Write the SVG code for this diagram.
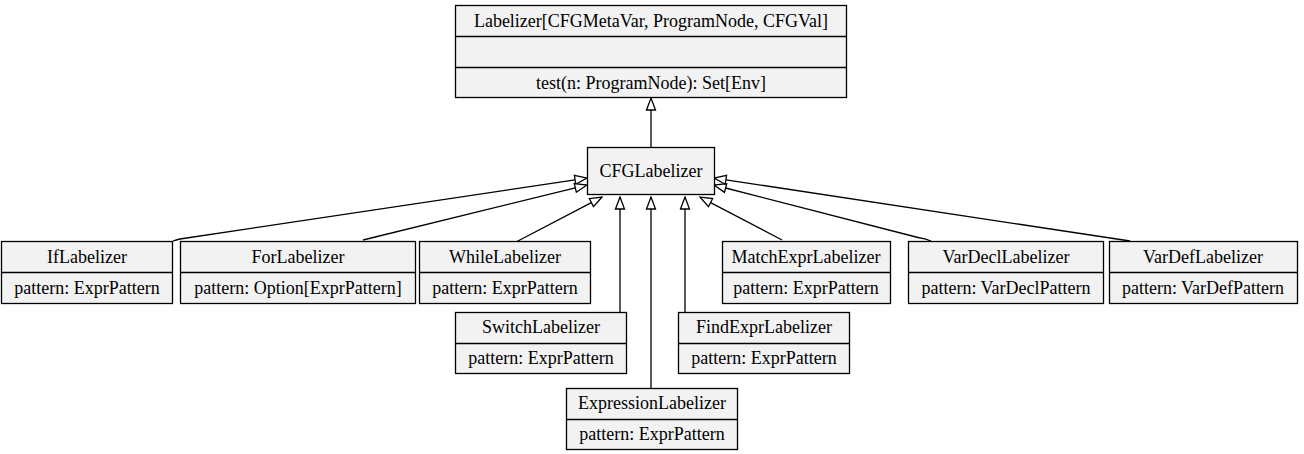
<svg xmlns="http://www.w3.org/2000/svg" width="1304" height="454" viewBox="0 0 1304 454" font-family="Liberation Serif, DejaVu Serif, serif" font-size="18">
<style>
.box{fill:#f2f2f2;stroke:#000;stroke-width:1.3}
.div{stroke:#000;stroke-width:1.3}
text{fill:#000;text-anchor:middle}
.edge{fill:none;stroke:#000;stroke-width:1.3}
</style>
<defs>
<marker id="tri" viewBox="-1 -6 14 12" refX="0" refY="0" markerWidth="14" markerHeight="12" markerUnits="userSpaceOnUse" orient="auto">
<path d="M0,-4.5 L12,0 L0,4.5 Z" fill="#fff" stroke="#000" stroke-width="1.3"/>
</marker>
</defs>
<rect width="1304" height="454" fill="#fff"/>
<g id="connectors">
<path class="edge" marker-end="url(#tri)" d="M651,147 L651,110"/>
<path class="edge" marker-end="url(#tri)" d="M173,241 Q176,240 180,239 L575.1,179.8"/>
<path class="edge" marker-end="url(#tri)" d="M363,240 L575.3,187.9"/>
<path class="edge" marker-end="url(#tri)" d="M516,242 L591.4,202.6"/>
<path class="edge" marker-end="url(#tri)" d="M620,312 L620,209"/>
<path class="edge" marker-end="url(#tri)" d="M651,388 L651,209"/>
<path class="edge" marker-end="url(#tri)" d="M685,312 L685,209"/>
<path class="edge" marker-end="url(#tri)" d="M782,240 L710.6,202.6"/>
<path class="edge" marker-end="url(#tri)" d="M931,241 Q925,238.5 918,237.5 L725.6,188"/>
<path class="edge" marker-end="url(#tri)" d="M1130,241 L725.9,179.8"/>
</g>
<g id="Labelizer">
<rect class="box" x="455.5" y="5.5" width="391" height="92"/>
<line class="div" x1="455.5" y1="36.5" x2="846.5" y2="36.5"/>
<line class="div" x1="455.5" y1="67.5" x2="846.5" y2="67.5"/>
<text x="651" y="27">Labelizer[CFGMetaVar, ProgramNode, CFGVal]</text>
<text x="651" y="89">test(n: ProgramNode): Set[Env]</text>
</g>
<g id="CFGLabelizer">
<rect class="box" x="587.5" y="147.5" width="127" height="47"/>
<text x="651" y="177">CFGLabelizer</text>
</g>
<g id="IfLabelizer">
<rect class="box" x="1.5" y="241.5" width="171" height="62"/>
<line class="div" x1="1.5" y1="272.5" x2="172.5" y2="272.5"/>
<text x="87" y="263">IfLabelizer</text>
<text x="87" y="294">pattern: ExprPattern</text>
</g>
<g id="ForLabelizer">
<rect class="box" x="180.5" y="241.5" width="235" height="62"/>
<line class="div" x1="180.5" y1="272.5" x2="415.5" y2="272.5"/>
<text x="298" y="263">ForLabelizer</text>
<text x="298" y="294">pattern: Option[ExprPattern]</text>
</g>
<g id="WhileLabelizer">
<rect class="box" x="419.5" y="241.5" width="171" height="62"/>
<line class="div" x1="419.5" y1="272.5" x2="590.5" y2="272.5"/>
<text x="505" y="263">WhileLabelizer</text>
<text x="505" y="294">pattern: ExprPattern</text>
</g>
<g id="MatchExprLabelizer">
<rect class="box" x="722.5" y="241.5" width="168" height="62"/>
<line class="div" x1="722.5" y1="272.5" x2="890.5" y2="272.5"/>
<text x="806" y="263">MatchExprLabelizer</text>
<text x="806" y="294">pattern: ExprPattern</text>
</g>
<g id="VarDeclLabelizer">
<rect class="box" x="908.5" y="241.5" width="195" height="62"/>
<line class="div" x1="908.5" y1="272.5" x2="1103.5" y2="272.5"/>
<text x="1006" y="263">VarDeclLabelizer</text>
<text x="1006" y="294">pattern: VarDeclPattern</text>
</g>
<g id="VarDefLabelizer">
<rect class="box" x="1109.5" y="241.5" width="188" height="62"/>
<line class="div" x1="1109.5" y1="272.5" x2="1297.5" y2="272.5"/>
<text x="1203" y="263">VarDefLabelizer</text>
<text x="1203" y="294">pattern: VarDefPattern</text>
</g>
<g id="SwitchLabelizer">
<rect class="box" x="455.5" y="312.5" width="171" height="61"/>
<line class="div" x1="455.5" y1="343.5" x2="626.5" y2="343.5"/>
<text x="541" y="333">SwitchLabelizer</text>
<text x="541" y="364">pattern: ExprPattern</text>
</g>
<g id="FindExprLabelizer">
<rect class="box" x="678.5" y="312.5" width="171" height="61"/>
<line class="div" x1="678.5" y1="343.5" x2="849.5" y2="343.5"/>
<text x="764" y="333">FindExprLabelizer</text>
<text x="764" y="364">pattern: ExprPattern</text>
</g>
<g id="ExpressionLabelizer">
<rect class="box" x="566.5" y="388.5" width="171" height="61"/>
<line class="div" x1="566.5" y1="419.5" x2="737.5" y2="419.5"/>
<text x="652" y="409">ExpressionLabelizer</text>
<text x="652" y="440">pattern: ExprPattern</text>
</g>
</svg>
